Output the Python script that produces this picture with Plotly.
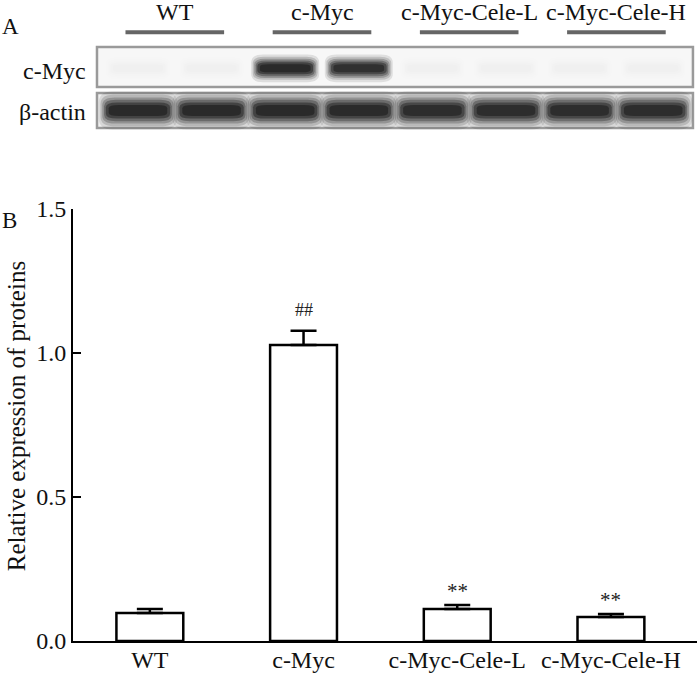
import plotly.graph_objects as go

# ---------------- data ----------------
categories = ["WT", "c-Myc", "c-Myc-Cele-L", "c-Myc-Cele-H"]
values = [0.097, 1.028, 0.111, 0.083]
errors = [0.014, 0.049, 0.014, 0.011]
sig_marks = ["", "##", "**", "**"]
y_ticks = [0.0, 0.5, 1.0, 1.5]

# western blot (panel A): 8 lanes, 2 per group
blot_groups = ["WT", "c-Myc", "c-Myc-Cele-L", "c-Myc-Cele-H"]
blot_rows = ["c-Myc", "β-actin"]
cmyc_band = [0.015, 0.015, 0.95, 0.88, 0.012, 0.012, 0.012, 0.012]
actin_band = [0.93, 0.93, 0.93, 0.92, 0.90, 0.90, 0.90, 0.90]

FONT = "Liberation Serif, Times New Roman, serif"

fig = go.Figure()

# ---------------- panel B: bars ----------------
x_idx = list(range(len(categories)))
fig.add_trace(go.Bar(
    x=x_idx, y=values, width=0.435,
    marker=dict(color="white", line=dict(color="black", width=2.5)),
    error_y=dict(type="data", symmetric=False, array=errors,
                 arrayminus=[0] * len(errors), color="black",
                 thickness=2.5, width=13),
    showlegend=False, hoverinfo="skip",
))

for xi, v, e, m in zip(x_idx, values, errors, sig_marks):
    if m:
        fig.add_annotation(x=xi, y=v + e, text=m, showarrow=False,
                           yanchor="bottom", yshift=9 if m == "##" else 0,
                           font=dict(family=FONT, size=21 if m == "**" else 18,
                                     color="#222"))

# ---------------- panel A: blot ----------------
shapes = []


def rrect(x0, x1, y0, y1, rx, ry):
    return (f"M {x0+rx},{y0} L {x1-rx},{y0} Q {x1},{y0} {x1},{y0+ry} "
            f"L {x1},{y1-ry} Q {x1},{y1} {x1-rx},{y1} L {x0+rx},{y1} "
            f"Q {x0},{y1} {x0},{y1-ry} L {x0},{y0+ry} Q {x0},{y0} {x0+rx},{y0} Z")


row_y = {"c-Myc": 1.0, "β-actin": 0.0}
# boxes
for row, (ylo, yhi, fill) in {"c-Myc": (0.54, 1.46, "#f7f7f7"),
                              "β-actin": (-0.40, 0.40, "#f0f0f0")}.items():
    shapes.append(dict(type="rect", xref="x2", yref="y2", x0=0.443, x1=8.54,
                       y0=ylo, y1=yhi, line=dict(color="#9a9a9a", width=2.5),
                       fillcolor=fill, layer="below"))

LAYERS = [(1.10, 1.45, 0.12), (1.05, 1.2, 0.18), (1.0, 1.0, 0.25),
          (0.95, 0.82, 0.35), (0.9, 0.62, 0.5), (0.82, 0.42, 0.6)]


def band(lane, yc, inten, w, h):
    for sx, sy, op in LAYERS:
        ww, hh = w * sx / 2, h * sy / 2
        shapes.append(dict(type="path", xref="x2", yref="y2",
                           path=rrect(lane - ww, lane + ww, yc - hh, yc + hh,
                                      ww * 0.35, hh * 0.6),
                           fillcolor="#181818", opacity=op * inten,
                           line=dict(width=0)))


for i, a in enumerate(cmyc_band):
    band(i + 1, 0.97, a, 0.84, 0.44)
for i, a in enumerate(actin_band):
    band(i + 1, 0.0, a, 0.97, 0.60)

# group lines and labels
for g, name in enumerate(blot_groups):
    l1, l2 = 2 * g + 1, 2 * g + 2
    shapes.append(dict(type="line", xref="x2", yref="y2", x0=l1 - 0.17,
                       x1=l2 + 0.17, y0=1.80, y1=1.80,
                       line=dict(color="#666", width=4)))
    fig.add_annotation(xref="x2", yref="y2", x=(l1 + l2) / 2, y=2.27,
                       text=name, showarrow=False,
                       font=dict(family=FONT, size=24, color="#111"))

row_label_y = {"c-Myc": 0.9, "β-actin": -0.03}
for row in blot_rows:
    fig.add_annotation(xref="x2", yref="y2", x=0.32, y=row_label_y[row],
                       text=row, showarrow=False, xanchor="right",
                       font=dict(family=FONT, size=24, color="#111"))

fig.add_annotation(xref="paper", yref="paper", x=-0.117, y=(641 - 12) / 641,
                   text="A", showarrow=False, xanchor="left",
                   font=dict(family=FONT, size=23, color="#111"))
fig.add_annotation(xref="paper", yref="paper", x=-0.117, y=(641 - 206) / 641,
                   text="B", showarrow=False, xanchor="left",
                   font=dict(family=FONT, size=23, color="#111"))
fig.add_annotation(xref="paper", yref="paper", x=-0.091, y=(641 - 416) / 641,
                   text="Relative expression of proteins", showarrow=False,
                   xanchor="center", yanchor="middle",
                   textangle=-90, font=dict(family=FONT, size=25, color="#111"))

# invisible trace to activate blot axes
fig.add_trace(go.Scatter(x=[1], y=[0], xaxis="x2", yaxis="y2", mode="markers",
                         marker=dict(opacity=0), showlegend=False,
                         hoverinfo="skip"))

fig.update_layout(
    width=700, height=675,
    margin=dict(l=73, r=3, t=0, b=34, pad=0, autoexpand=False),
    paper_bgcolor="white", plot_bgcolor="white",
    font=dict(family=FONT, size=24, color="#111"),
    shapes=shapes,
    xaxis=dict(domain=[0, 1], range=[-0.5, 3.56], tickvals=x_idx,
               ticktext=categories, showline=True, linecolor="black",
               linewidth=2, ticks="", showgrid=False, zeroline=False,
               automargin=False, ticklabelstandoff=-4,
               tickfont=dict(family=FONT, size=24, color="#111")),
    yaxis=dict(domain=[0, (641 - 209) / 641], range=[0, 1.5],
               tickvals=y_ticks, tickformat=".1f", showline=True,
               linecolor="black", linewidth=2, ticks="inside", ticklen=8,
               tickwidth=2, tickcolor="black", showgrid=False,
               zeroline=False, automargin=False,
               tickfont=dict(family=FONT, size=24, color="#111")),
    xaxis2=dict(domain=[0, 1], range=[0.117, 8.595], anchor="y2",
                visible=False),
    yaxis2=dict(domain=[(641 - 135) / 641, 1], range=[-0.563, 2.54],
                anchor="x2", visible=False),
)

fig.write_html("out.html",
               config={"displayModeBar": False},
               post_script="document.body.style.margin='0';"
                           "document.body.style.overflow='hidden';")
